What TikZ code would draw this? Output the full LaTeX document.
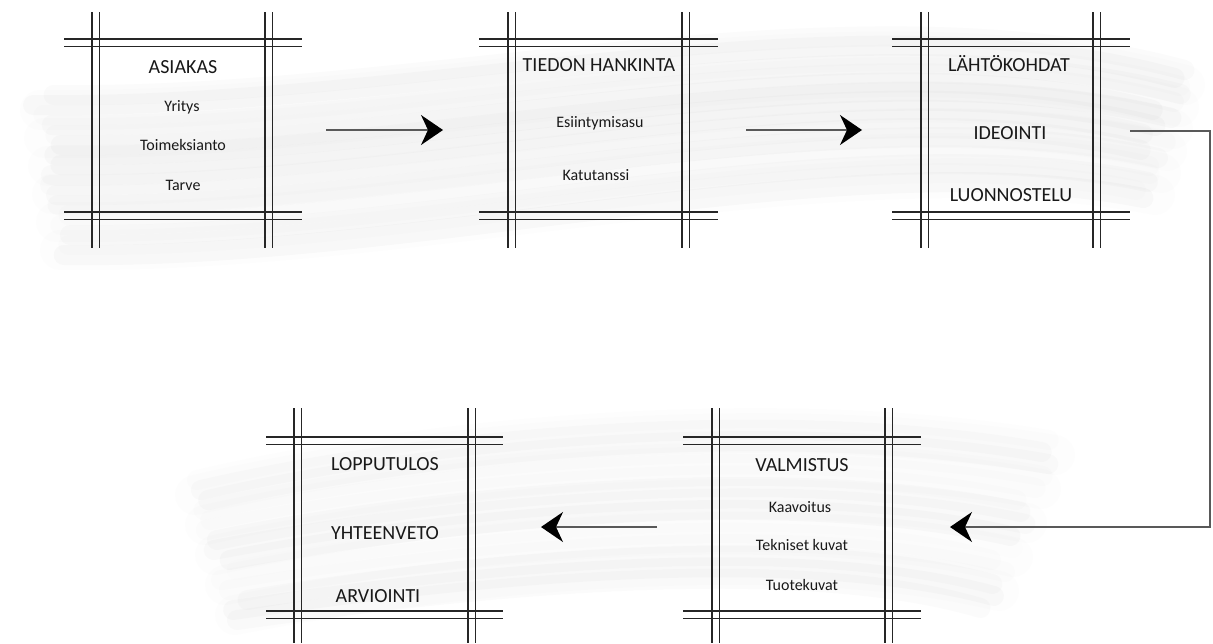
\documentclass[tikz,border=0pt]{standalone}
\usepackage{fontspec}
\setmainfont{Carlito}
\usetikzlibrary{arrows.meta}
\newcommand{\myframe}[8]{%
  % #1 left vline x, #2 right vline x, #3 top hline y, #4 bottom hline y,
  % #5 hline x start, #6 hline x end, #7 vline y start, #8 vline y end
  \draw[frameline] (#1,#7) -- (#1,#8);
  \draw[frameline] ({#1+7.5},#7) -- ({#1+7.5},#8);
  \draw[frameline] (#2,#7) -- (#2,#8);
  \draw[frameline] ({#2+7.5},#7) -- ({#2+7.5},#8);
  \draw[frameline] (#5,#3) -- (#6,#3);
  \draw[frameline] (#5,{#3+7.7}) -- (#6,{#3+7.7});
  \draw[frameline] (#5,#4) -- (#6,#4);
  \draw[frameline] (#5,{#4+7.7}) -- (#6,{#4+7.7});
}
\begin{document}
\begin{tikzpicture}[x=1pt,y=-1pt,
  frameline/.style={line width=1.05pt, black!85},
  ttl/.style={font=\fontsize{20}{22}\selectfont, text=black!90, inner sep=0pt, anchor=base},
  sub/.style={font=\fontsize{16}{18}\selectfont, text=black!90, inner sep=0pt, anchor=base},
  flow/.style={line width=1.4pt, black!65, -{Stealth[length=22pt,width=30pt,inset=7pt,color=black]}},
  brush/.style={line width=20pt, line cap=round, gray}]
\useasboundingbox (0,0) rectangle (1213,643);
\fill[white] (0,0) rectangle (1213,643);
% background brush strokes: soft underlayer
\foreach \i in {0,...,5}{
  \draw[line width=40pt, line cap=round, gray, opacity=0.012] ({40+4*\i},{110+28*\i}) .. controls (420,{115+28*\i}) and (850,{-5+28*\i}) .. ({1185-6*\i},{85+22*\i});
}
\foreach \i in {0,...,4}{
  \draw[line width=40pt, line cap=round, gray, opacity=0.01] ({195+10*\i},{495+30*\i}) .. controls (430,{440+34*\i}) and (780,{410+32*\i}) .. ({1055-14*\i},{455+34*\i});
}
% streaks
\pgfmathsetseed{11}
\foreach \i in {0,...,16}{
  \pgfmathsetmacro\op{0.01+0.035*rnd}
  \pgfmathsetmacro\sx{30+2*\i+25*rnd}
  \pgfmathsetmacro\ex{1195-3*\i-30*rnd}
  \draw[brush, opacity=\op] (\sx,{95+10*\i}) .. controls (420,{100+10*\i}) and (850,{-20+10*\i}) .. (\ex,{70+8*\i});
}
\foreach \i in {0,...,14}{
  \pgfmathsetmacro\op{0.008+0.03*rnd}
  \pgfmathsetmacro\sx{180+4*\i+25*rnd}
  \pgfmathsetmacro\ex{1065-5*\i-30*rnd}
  \draw[brush, opacity=\op] (\sx,{480+10*\i}) .. controls (430,{425+12*\i}) and (780,{395+11*\i}) .. (\ex,{440+12*\i});
}
% frames
\myframe{92}{265}{39}{212}{64}{302}{12}{248}
\myframe{508}{682}{39}{212}{479}{718}{12}{248}
\myframe{921}{1093}{39}{212}{892}{1130}{12}{248}
\myframe{294}{468}{437}{611}{266}{503}{408}{643}
\myframe{712}{885}{437}{611}{683}{921}{408}{643}
% texts
\node[ttl] (t1) at (183,73) {ASIAKAS};
\node[sub] (t1a) at (182,111) {Yritys};
\node[sub] (t1b) at (183,150.7) {Toimeksianto};
\node[sub] (t1c) at (183,190.7) {Tarve};
\node[ttl] (t2) at (599,71) {TIEDON HANKINTA};
\node[sub] (t2a) at (600,127.7) {Esiintymisasu};
\node[sub] (t2b) at (596,180) {Katutanssi};
\node[ttl] (t3) at (1009,71) {LÄHTÖKOHDAT};
\node[ttl] (t3a) at (1010,139) {IDEOINTI};
\node[ttl] (t3b) at (1011,201) {LUONNOSTELU};
\node[ttl] (t5) at (802,471) {VALMISTUS};
\node[sub] (t5a) at (800,512) {Kaavoitus};
\node[sub] (t5b) at (802,550.7) {Tekniset kuvat};
\node[sub] (t5c) at (802,590) {Tuotekuvat};
\node[ttl] (t4) at (385,470.7) {LOPPUTULOS};
\node[ttl] (t4a) at (385,539) {YHTEENVETO};
\node[ttl] (t4b) at (378,602) {ARVIOINTI};
% connectors
\coordinate (a1s) at (326,130);
\coordinate (a1e) at (443,130);
\coordinate (a2s) at (746,130);
\coordinate (a2e) at (862,130);
\coordinate (a3s) at (1130,131);
\coordinate (a3m) at (1210,330);
\coordinate (a3e) at (950,527);
\coordinate (a4s) at (657,527);
\coordinate (a4e) at (541,527);
\draw[flow] (a1s) -- (a1e);
\draw[flow] (a2s) -- (a2e);
\draw[flow] (a3s) -| (a3m) |- (a3e);
\draw[flow] (a4s) -- (a4e);
\end{tikzpicture}
\end{document}
